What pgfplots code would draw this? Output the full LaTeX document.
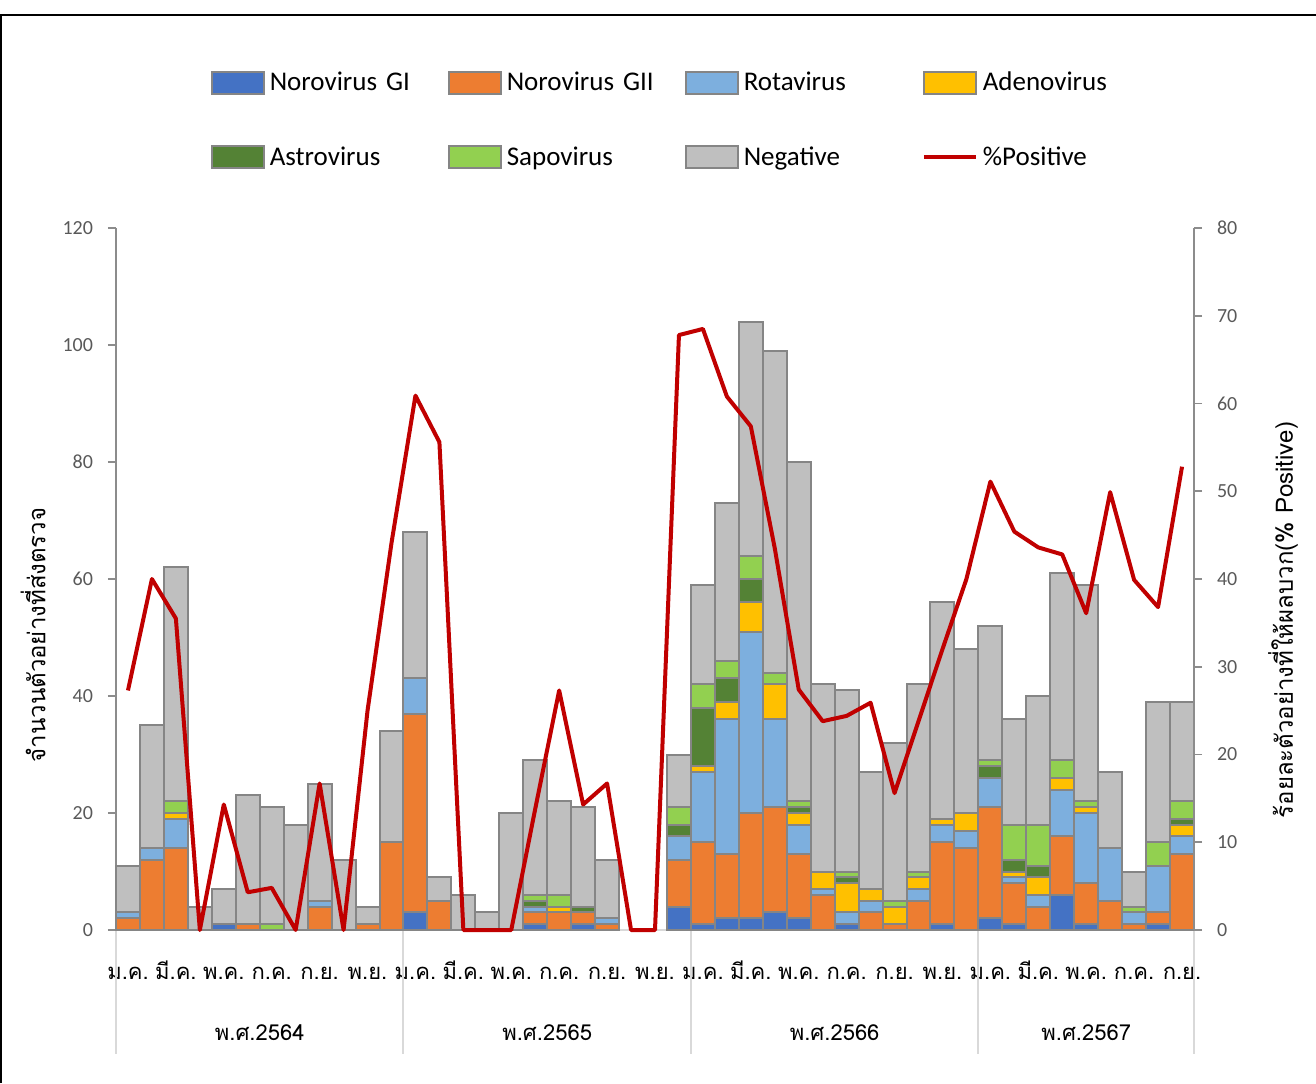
\documentclass[border=0pt]{standalone}
\usepackage{fontspec}
\setmainfont{Carlito}
\newfontfamily\thaifont[Script=Thai]{Loma}
\usepackage{pgfplots}
\usepackage{pgfplotstable}
\pgfplotsset{compat=1.18}

\definecolor{noroI}{HTML}{4472C4}
\definecolor{noroII}{HTML}{ED7D31}
\definecolor{rota}{HTML}{7DAFDE}
\definecolor{adeno}{HTML}{FFC000}
\definecolor{astro}{HTML}{548235}
\definecolor{sapo}{HTML}{92D050}
\definecolor{neg}{HTML}{BFBFBF}
\definecolor{edge}{HTML}{858585}
\definecolor{posline}{HTML}{C00000}
\definecolor{axgray}{HTML}{8C8C8C}
\definecolor{sepgray}{HTML}{D9D9D9}
\definecolor{ticktext}{HTML}{595959}

% monthly counts by virus (Oct/Nov 2565 had no samples)
\pgfplotstableread{
x  g1 g2 rota adeno astro sapo neg
0  0  2  1  0  0  0  8
1  0  12 2  0  0  0  21
2  0  14 5  1  0  2  40
3  0  0  0  0  0  0  4
4  1  0  0  0  0  0  6
5  0  1  0  0  0  0  22
6  0  0  0  0  0  1  20
7  0  0  0  0  0  0  18
8  0  4  1  0  0  0  20
9  0  0  0  0  0  0  12
10 0  1  0  0  0  0  3
11 0  15 0  0  0  0  19
12 3  34 6  0  0  0  25
13 0  5  0  0  0  0  4
14 0  0  0  0  0  0  6
15 0  0  0  0  0  0  3
16 0  0  0  0  0  0  20
17 1  2  1  0  1  1  23
18 0  3  0  1  0  2  16
19 1  2  0  0  1  0  17
20 0  1  1  0  0  0  10
23 4  8  4  0  2  3  9
24 1  14 12 1  10 4  17
25 2  11 23 3  4  3  27
26 2  18 31 5  4  4  40
27 3  18 15 6  0  2  55
28 2  11 5  2  1  1  58
29 0  6  1  3  0  0  32
30 1  0  2  5  1  1  31
31 0  3  2  2  0  0  20
32 0  1  0  3  0  1  27
33 0  5  2  2  0  1  32
34 1  14 3  1  0  0  37
35 0  14 3  3  0  0  28
36 2  19 5  0  2  1  23
37 1  7  1  1  2  6  18
38 0  4  2  3  2  7  22
39 6  10 8  2  0  3  32
40 1  7  12 1  0  1  37
41 0  5  9  0  0  0  13
42 0  1  2  0  0  1  6
43 1  2  8  0  0  4  24
44 0  13 3  2  1  3  17
}\bars

\pgfplotstableread{
x  pct
0  27.3
1  40.0
2  35.5
3  0
4  14.3
5  4.3
6  4.8
7  0
8  16.7
9  0
10 25.0
11 44.1
12 60.9
13 55.6
14 0
15 0
16 0
17 13.8
18 27.3
19 14.3
20 16.7
21 0
22 0
23 67.8
24 68.5
25 60.8
26 57.4
27 43.5
28 27.4
29 23.8
30 24.4
31 25.9
32 15.6
33 23.8
34 32.0
35 40.0
36 51.1
37 45.4
38 43.6
39 42.8
40 36.1
41 49.9
42 39.9
43 36.8
44 52.8
}\pos

\pgfplotsset{swatch/.style={legend image code/.code={\draw[##1] (0pt,-5.5pt) rectangle (26pt,5.5pt);}}}

\begin{document}
\begin{tikzpicture}
\useasboundingbox (-58pt,-76.5pt) rectangle (600pt,465pt);
\draw[black,line width=1pt] (-57.5pt,-76.5pt) -- (-57.5pt,457.5pt) -- (600pt,457.5pt);

\begin{axis}[
  at={(0pt,0pt)}, anchor=south west,
  scale only axis, width=539pt, height=351pt,
  xmin=-0.5, xmax=44.5, ymin=0, ymax=120,
  clip=false,
  ybar stacked, bar width=1,
  axis x line*=bottom, axis y line*=left,
  x axis line style={sepgray, line width=1pt},
  y axis line style={axgray, line width=1pt},
  tick align=outside,
  major tick length=4pt,
  ytick={0,20,...,120},
  ytick style={axgray, line width=0.8pt},
  yticklabel style={font=\fontsize{10}{12}\selectfont, text=ticktext, xshift=-4pt},
  /pgf/number format/assume math mode=true,
  xtick={0,2,...,44},
  xticklabels={ม.ค.,มี.ค.,พ.ค.,ก.ค.,ก.ย.,พ.ย.,ม.ค.,มี.ค.,พ.ค.,ก.ค.,ก.ย.,พ.ย.,ม.ค.,มี.ค.,พ.ค.,ก.ค.,ก.ย.,พ.ย.,ม.ค.,มี.ค.,พ.ค.,ก.ค.,ก.ย.},
  xtick style={draw=none},
  xticklabel style={font=\thaifont\fontsize{11}{13}\selectfont, text height=9pt, text depth=2pt, yshift=-8pt},
  every axis plot/.append style={draw=edge, line width=1pt},
  legend columns=4,
  legend cell align=left,
  legend style={draw=none, fill=none,
    at={(0.082,1.236)}, anchor=north west,
    font=\fontsize{13.5}{15}\selectfont,
    /tikz/every even column/.append style={column sep=6.5pt},
    row sep=21.5pt,
    nodes={text width=80pt, align=left, inner sep=2.5pt}},
]
\addplot[fill=noroI, swatch]  table[x=x, y=g1]{\bars};
\addplot[fill=noroII, swatch] table[x=x, y=g2]{\bars};
\addplot[fill=rota, swatch]   table[x=x, y=rota]{\bars};
\addplot[fill=adeno, swatch]  table[x=x, y=adeno]{\bars};
\addplot[fill=astro, swatch]  table[x=x, y=astro]{\bars};
\addplot[fill=sapo, swatch]   table[x=x, y=sapo]{\bars};
\addplot[fill=neg, swatch]    table[x=x, y=neg]{\bars};
\addlegendentry{Norovirus GI}
\addlegendentry{Norovirus GII}
\addlegendentry{Rotavirus}
\addlegendentry{Adenovirus}
\addlegendentry{Astrovirus}
\addlegendentry{Sapovirus}
\addlegendentry{Negative}
\addlegendimage{line legend, posline, line width=2pt, legend image code/.code={\draw[posline, line width=2pt] (0pt,0pt) -- (26pt,0pt);}}
\addlegendentry{\%Positive}

\pgfplotsinvokeforeach{-0.5,11.5,23.5,35.5,44.5}{
  \draw[sepgray, line width=1pt] (axis cs:#1,0) -- ++(0pt,-62pt);
}
\node[font=\thaifont\fontsize{11}{13}\selectfont, anchor=base, yshift=-55pt] at (axis cs:5.5,0) {พ.ศ.2564};
\node[font=\thaifont\fontsize{11}{13}\selectfont, anchor=base, yshift=-55pt] at (axis cs:17.5,0) {พ.ศ.2565};
\node[font=\thaifont\fontsize{11}{13}\selectfont, anchor=base, yshift=-55pt] at (axis cs:29.5,0) {พ.ศ.2566};
\node[font=\thaifont\fontsize{11}{13}\selectfont, anchor=base, yshift=-55pt] at (axis cs:40,0) {พ.ศ.2567};
\end{axis}

\begin{axis}[
  at={(0pt,0pt)}, anchor=south west,
  scale only axis, width=539pt, height=351pt,
  xmin=-0.5, xmax=44.5, ymin=0, ymax=80,
  clip=false,
  axis x line=none, axis y line*=right,
  y axis line style={axgray, line width=1pt},
  tick align=outside,
  major tick length=4pt,
  ytick={0,10,...,80},
  ytick style={axgray, line width=0.8pt},
  yticklabel style={font=\fontsize{10}{12}\selectfont, text=ticktext, xshift=4pt},
  /pgf/number format/assume math mode=true,
]
\addplot[posline, line width=2pt, line join=round, mark=none] table[x=x, y=pct]{\pos};
\end{axis}

\node[rotate=90, font=\thaifont\fontsize{12}{14}\selectfont] at (-41.5pt,147.5pt) {จำนวนตัวอย่างที่ส่งตรวจ};
\node[rotate=90, font=\thaifont\fontsize{12}{14}\selectfont] at (583.5pt,155pt) {ร้อยละตัวอย่างที่ให้ผลบวก(\% Positive)};
\end{tikzpicture}
\end{document}
